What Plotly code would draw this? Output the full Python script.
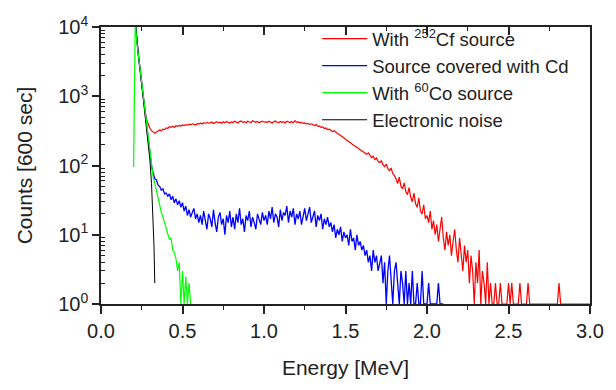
import numpy as np
import plotly.graph_objects as go

STEP = 0.01

# ---- data (counts per 600 s, channels of 0.01 MeV) ----
red_start = 0.21
red_counts = [
    12000, 6000, 3800, 2400, 1500, 950, 620, 460, 390, 345, 318, 300, 292, 305, 318, 326, 318, 335, 330, 348,
    345, 362, 355, 370, 358, 375, 368, 380, 372, 386, 378, 390, 382, 395, 388, 400, 392, 385, 402, 395,
    410, 398, 415, 405, 420, 408, 412, 425, 404, 418, 430, 412, 422, 408, 428, 415, 432, 420, 410, 426,
    418, 435, 422, 412, 430, 440, 420, 428, 415, 436, 425, 418, 442, 428, 420, 432, 415, 426, 438, 422,
    430, 418, 435, 425, 410, 428, 440, 422, 415, 432, 420, 428, 412, 436, 425, 418, 430, 415, 445, 420,
    428, 410, 420, 405, 412, 398, 405, 392, 400, 385, 378, 390, 368, 372, 355, 360, 342, 348, 330, 335,
    322, 310, 318, 298, 290, 282, 270, 262, 255, 240, 228, 218, 212, 205, 196, 190, 182, 175, 170, 162,
    158, 150, 145, 152, 138, 130, 136, 122, 128, 115, 110, 118, 102, 96, 105, 90, 84, 92, 76, 72,
    64, 55, 68, 50, 46, 56, 42, 38, 48, 35, 30, 40, 28, 25, 34, 22, 20, 27, 17, 19,
    15, 22, 12, 16, 10, 14, 8, 12, 18, 9, 6, 11, 7, 10, 5, 8, 12, 6, 4, 9,
    5, 3, 7, 4, 6, 2, 5, 3, 1, 4, 2, 6, 1, 3, 2, 1, 4, 1, 2, 1,
    1, 2, 1, 1, 2, 1, 1, 1, 1, 2, 1, 2, 1, 1, 1, 1, 2, 1, 1, 1,
    1, 2, 1, 1, 1, 1, 1, 1, 1, 1, 1, 1, 1, 1, 1, 1, 1, 1, 1, 1,
    2, 1, 1, 1, 1, 1, 1, 1, 1, 1, 1, 1, 1, 1, 1, 1, 1, 1, 1, 1,
]

blue_start = 0.21
blue_counts = [
    12000, 6000, 3800, 2400, 1500, 950, 600, 380, 240, 150,
    98, 78, 64, 62, 52, 50, 44, 46, 39, 40,
    36, 39, 32, 36, 29, 33, 27, 31, 25, 29,
    22, 26, 19, 23, 18, 21, 24, 17, 20, 15,
    19, 14, 22, 16, 12, 20, 17, 13, 23, 15, 11, 18, 21, 14, 17, 10, 19, 15, 22, 13,
    18, 12, 20, 15, 24, 14, 17, 11, 19, 16, 22, 13, 18, 15, 12, 20, 17, 14, 21, 16,
    19, 14, 22, 17, 25, 15, 20, 18, 13, 23, 16, 21, 19, 26, 15, 22, 18, 24, 14, 20,
    17, 22, 14, 19, 24, 16, 21, 25, 15, 18, 22, 13, 19, 16, 20, 12, 17, 14, 18, 13,
    15, 11, 14, 9, 12, 10, 13, 8, 11, 9, 10, 7, 12, 8, 9, 6, 10, 7, 8, 6,
    7, 5, 6, 4, 5, 3, 6, 4, 5, 3, 4, 5, 2, 4, 1, 3, 5, 2, 1, 3,
    4, 2, 1, 3, 2, 1, 3, 1, 2, 1, 3, 1, 1, 2, 1, 1, 3, 1, 1, 1,
    2, 1, 1, 1, 1, 1, 2, 1, 1, 1,
]

green_start = 0.20
green_counts = [
    95, 12000, 6000, 3800, 2400, 1500, 950, 600, 380, 240, 150, 95, 68, 55, 42, 32,
    26, 21, 18, 15, 13, 11, 8.5, 9, 6, 5.5, 4.5, 3, 4, 1, 3, 1, 2.5, 1, 2, 1,
]

black_energy = [0.21, 0.22, 0.23, 0.24, 0.25, 0.26, 0.27, 0.28, 0.29, 0.30, 0.31, 0.32, 0.325, 0.33]
black_counts = [12000, 6000, 3800, 2400, 1500, 950, 600, 380, 220, 120, 55, 15, 7, 2]

series_names = [
    "With <sup>252</sup>Cf source",
    "Source covered with Cd",
    "With <sup>60</sup>Co source",
    "Electronic noise",
]
x_ticks = [0.0, 0.5, 1.0, 1.5, 2.0, 2.5, 3.0]
y_ticks = [1, 10, 100, 1000, 10000]
y_ticktext = ["10<sup>0</sup>", "10<sup>1</sup>", "10<sup>2</sup>", "10<sup>3</sup>", "10<sup>4</sup>"]


def energies(start, n):
    return np.round(start + STEP * np.arange(n), 3)


red_energy = energies(red_start, len(red_counts))
blue_energy = energies(blue_start, len(blue_counts))
green_energy = energies(green_start, len(green_counts))

FONT = "Liberation Sans, Arial, sans-serif"
TXT = "#222222"

fig = go.Figure()
fig.add_trace(go.Scatter(x=red_energy, y=red_counts, mode="lines", name=series_names[0],
                         line=dict(color="#ff0000", width=1.2), legendrank=1))
fig.add_trace(go.Scatter(x=blue_energy, y=blue_counts, mode="lines", name=series_names[1],
                         line=dict(color="#0000ff", width=1.3), legendrank=2))
fig.add_trace(go.Scatter(x=black_energy, y=black_counts, mode="lines", name=series_names[3],
                         line=dict(color="#000000", width=1.0), legendrank=4))
fig.add_trace(go.Scatter(x=green_energy, y=green_counts, mode="lines", name=series_names[2],
                         line=dict(color="#00ff00", width=1.2), legendrank=3))
# helper trace so the top axis (inside ticks) is drawn
fig.add_trace(go.Scatter(x=[0, 3], y=[1, 1], xaxis="x2", mode="markers",
                         marker=dict(opacity=0), showlegend=False, hoverinfo="skip"))

minor_y = [m * 10 ** k for k in range(0, 4) for m in range(2, 10)]

fig.update_layout(
    width=616, height=390,
    margin=dict(l=101, r=20, t=27, b=86),
    paper_bgcolor="white", plot_bgcolor="white",
    font=dict(family=FONT, size=20, color=TXT),
    showlegend=True,
    legend=dict(x=0.442, y=1.025, xanchor="left", yanchor="top",
                bgcolor="rgba(0,0,0,0)", font=dict(size=18.5, color=TXT),
                itemwidth=45, tracegroupgap=0, traceorder="normal"),
    xaxis=dict(
        range=[0, 3], tickvals=x_ticks, tickformat=".1f",
        showline=True, linecolor="#222", linewidth=1.5, mirror=False,
        ticks="outside", ticklen=8, tickwidth=1.5, tickcolor="#222",
        minor=dict(dtick=0.25, tick0=0, ticks="outside", ticklen=4, tickwidth=1.2, tickcolor="#222"),
        showgrid=False, zeroline=False,
        title=dict(text="Energy [MeV]", font=dict(size=21), standoff=20),
    ),
    xaxis2=dict(
        range=[0, 3], overlaying="x", side="top", tickvals=x_ticks, showticklabels=False,
        showline=True, linecolor="#222", linewidth=1.5,
        ticks="inside", ticklen=8, tickwidth=1.5, tickcolor="#222",
        minor=dict(dtick=0.25, tick0=0, ticks="inside", ticklen=4, tickwidth=1.2, tickcolor="#222"),
        showgrid=False, zeroline=False,
    ),
    yaxis=dict(
        type="log", range=[0, 4], tickvals=y_ticks, ticktext=y_ticktext,
        showline=True, linecolor="#222", linewidth=1.5, mirror=True,
        ticks="outside", ticklen=7, tickwidth=1.5, tickcolor="#222",
        minor=dict(tickmode="array", tickvals=minor_y, ticks="inside", ticklen=4,
                   tickwidth=1.2, tickcolor="#222", showgrid=False),
        showgrid=False, zeroline=False,
        title=dict(text="Counts [600 sec]", font=dict(size=21), standoff=20),
    ),
)

fig.write_html("out.html", config={"displayModeBar": False},
               post_script="document.body.style.margin='0px';document.body.style.overflow='hidden';")
